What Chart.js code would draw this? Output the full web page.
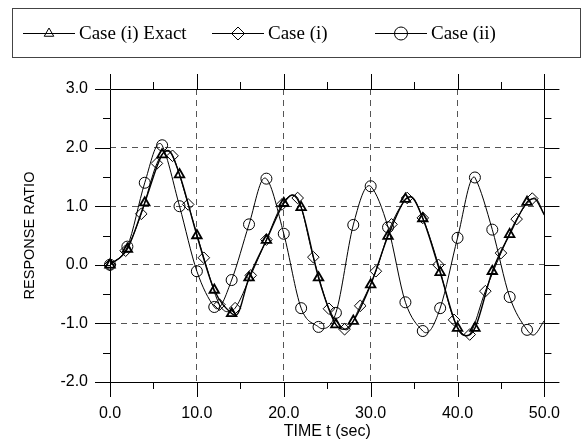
<!DOCTYPE html>
<html>
  <head>
    <meta charset="UTF-8" />
    <title>Response ratio vs time</title>
    <style>
      html, body { margin: 0; padding: 0; background: #fff; }
      canvas { display: block; }
    </style>
  </head>
  <body>
    <canvas id="myCanvas" width="582" height="444"></canvas>
    <script src="https://cdn.jsdelivr.net/npm/chart.js@4/dist/chart.umd.min.js"></script>
    <script>
      // Case (i) Exact - triangle markers, every 2 s
      const exactT = [0, 2, 4, 6, 8, 10, 12, 14, 16, 18, 20, 22, 24, 26, 28, 30, 32, 34, 36, 38, 40, 42, 44, 46, 48];
      const exactY = [0, 0.27, 1.06, 1.88, 1.54, 0.50, -0.43, -0.83, -0.22, 0.42, 1.05, 0.98, -0.22, -1.02, -0.96, -0.34, 0.49, 1.12, 0.79, -0.13, -1.08, -1.08, -0.11, 0.52, 1.07];
      // extra curve points between markers (peaks, troughs, end)
      const exactCurveT = [6.7, 14.5, 21.0, 27.0, 34.6, 41.0, 48.8, 50];
      const exactCurveY = [1.95, -0.86, 1.19, -1.10, 1.16, -1.21, 1.13, 0.85];

      // Case (i) - diamond markers, every 1.8 s
      const caseIT = [0, 1.8, 3.6, 5.4, 7.2, 9.0, 10.8, 12.6, 14.4, 16.2, 18.0, 19.8, 21.6, 23.4, 25.2, 27.0, 28.8, 30.6, 32.4, 34.2, 36.0, 37.8, 39.6, 41.4, 43.2, 45.0, 46.8, 48.6];
      const caseIY = [0, 0.24, 0.87, 1.73, 1.86, 1.03, 0.12, -0.68, -0.74, -0.18, 0.43, 1.03, 1.14, 0.13, -0.75, -1.10, -0.70, -0.11, 0.69, 1.14, 0.80, 0.00, -0.94, -1.19, -0.45, 0.20, 0.78, 1.13];
      const caseICurveT = [6.5, 13.5, 21.0, 27.2, 34.6, 41.1, 48.9, 50];
      const caseICurveY = [1.94, -0.80, 1.19, -1.11, 1.16, -1.21, 1.14, 0.85];

      // Case (ii) - circle markers, every 2 s
      const caseIIT = [0, 2, 4, 6, 8, 10, 12, 14, 16, 18, 20, 22, 24, 26, 28, 30, 32, 34, 36, 38, 40, 42, 44, 46, 48];
      const caseIIY = [0, 0.31, 1.40, 2.04, 1.00, -0.11, -0.72, -0.26, 0.69, 1.47, 0.53, -0.74, -1.06, -0.82, 0.68, 1.34, 0.64, -0.64, -1.13, -0.74, 0.46, 1.49, 0.60, -0.55, -1.11];
      const caseIICurveT = [5.7, 12.3, 17.8, 24.4, 29.8, 36.4, 41.9, 48.7, 50];
      const caseIICurveY = [2.07, -0.75, 1.48, -1.09, 1.35, -1.16, 1.50, -1.20, -0.95];

      const seriesNames = ["Case (i) Exact", "Case (i)", "Case (ii)"];

      const SANS = "'Liberation Sans', Arial, sans-serif";
      const SERIF = "'Liberation Serif', 'Times New Roman', serif";

      function pts(ts, ys) {
        return ts.map((t, i) => ({ x: t, y: ys[i] }));
      }
      function curve(ts, ys, ct, cy) {
        return pts(ts, ys).concat(pts(ct, cy)).sort((a, b) => a.x - b.x);
      }

      const styles = [
        { shape: "triangle", r: 5.5, w: 1.8, lineW: 1.4 },
        { shape: "rectRot", r: 5.8, w: 1, lineW: 1 },
        { shape: "circle", r: 5.5, w: 1, lineW: 1 }
      ];

      const lineData = [
        curve(exactT, exactY, exactCurveT, exactCurveY),
        curve(caseIT, caseIY, caseICurveT, caseICurveY),
        curve(caseIIT, caseIIY, caseIICurveT, caseIICurveY)
      ];
      const markerData = [pts(exactT, exactY), pts(caseIT, caseIY), pts(caseIIT, caseIIY)];

      const datasets = [];
      seriesNames.forEach((name, i) => {
        datasets.push({
          label: name,
          data: lineData[i],
          borderColor: "#000",
          borderWidth: styles[i].lineW,
          pointRadius: 0,
          cubicInterpolationMode: "monotone",
          fill: false
        });
        datasets.push({
          label: name + " markers",
          data: markerData[i],
          showLine: false,
          pointStyle: styles[i].shape,
          pointRadius: styles[i].r,
          pointBorderWidth: styles[i].w,
          pointBorderColor: "#000",
          pointBackgroundColor: "rgba(255,255,255,0)",
          clip: false
        });
      });

      function isMajorX(v) { return Math.abs(v % 10) < 1e-6; }
      function isMajorY(v) { return Math.abs(v - Math.round(v)) < 1e-6; }

      // legend box at the top, drawn by hand
      function drawMarker(ctx, shape, x, y, r) {
        ctx.beginPath();
        if (shape === "circle") {
          ctx.arc(x, y, r, 0, Math.PI * 2);
        } else if (shape === "rectRot") {
          ctx.moveTo(x, y - r); ctx.lineTo(x + r, y); ctx.lineTo(x, y + r); ctx.lineTo(x - r, y);
          ctx.closePath();
        } else {
          let a = 0;
          ctx.moveTo(x + Math.sin(a) * r, y - Math.cos(a) * r);
          a += (2 * Math.PI) / 3;
          ctx.lineTo(x + Math.sin(a) * r, y - Math.cos(a) * r);
          a += (2 * Math.PI) / 3;
          ctx.lineTo(x + Math.sin(a) * r, y - Math.cos(a) * r);
          ctx.closePath();
        }
        ctx.stroke();
      }

      const legendBox = {
        id: "legendBox",
        afterDraw(chart) {
          const ctx = chart.ctx;
          const starts = [23, 212, 375];
          const cy = 33;
          ctx.save();
          ctx.strokeStyle = "#444";
          ctx.lineWidth = 1;
          ctx.strokeRect(12.5, 8.5, 568, 49);
          ctx.font = "19px " + SERIF;
          ctx.textBaseline = "middle";
          ctx.fillStyle = "#000";
          seriesNames.forEach((name, i) => {
            const x0 = starts[i];
            ctx.strokeStyle = "#000";
            ctx.lineWidth = 1;
            ctx.beginPath();
            ctx.moveTo(x0, cy + 0.5);
            ctx.lineTo(x0 + 52, cy + 0.5);
            ctx.stroke();
            ctx.lineWidth = 1;
            drawMarker(ctx, styles[i].shape, x0 + 26, cy + 0.5, i === 0 ? 5.5 : 6.5);
            ctx.fillText(name, x0 + 56, cy + 1);
          });
          ctx.restore();
        }
      };

      // frame round the plot and outward tick marks on all four sides
      const frameTicks = {
        id: "frameTicks",
        afterDraw(chart) {
          const { ctx, chartArea: a } = chart;
          const sx = chart.scales.x, sy = chart.scales.y;
          ctx.save();
          ctx.strokeStyle = "#000";
          ctx.lineWidth = 1;
          ctx.beginPath();
          sx.ticks.forEach(t => {
            const px = Math.round(sx.getPixelForValue(t.value)) + 0.5;
            const len = isMajorX(t.value) ? 15 : 7;
            ctx.moveTo(px, a.bottom); ctx.lineTo(px, a.bottom + len);
            ctx.moveTo(px, a.top); ctx.lineTo(px, a.top - len);
          });
          sy.ticks.forEach(t => {
            const py = Math.round(sy.getPixelForValue(t.value)) + 0.5;
            const len = isMajorY(t.value) ? 15 : 7;
            ctx.moveTo(a.left, py); ctx.lineTo(a.left - len, py);
            ctx.moveTo(a.right, py); ctx.lineTo(a.right + len, py);
          });
          ctx.rect(Math.round(a.left) + 0.5, Math.round(a.top) + 0.5, Math.round(a.width), Math.round(a.height));
          ctx.stroke();
          ctx.restore();
        }
      };

      const ctx = document.getElementById("myCanvas").getContext("2d");
      const myChart = new Chart(ctx, {
        type: "line",
        data: { datasets: datasets },
        plugins: [frameTicks, legendBox],
        options: {
          responsive: false,
          animation: false,
          layout: { padding: { top: 89, right: 26, left: 0, bottom: 0 } },
          plugins: { legend: { display: false }, tooltip: { enabled: false } },
          scales: {
            x: {
              type: "linear",
              min: 0,
              max: 50,
              afterFit: s => { s.height = 62; },
              ticks: {
                stepSize: 5,
                autoSkip: false,
                maxRotation: 0,
                padding: 22,
                color: "#000",
                font: { family: SANS, size: 16 },
                callback: v => (isMajorX(v) ? v.toFixed(1) : "")
              },
              grid: {
                drawTicks: false,
                lineWidth: 1,
                color: c => (c.tick && isMajorX(c.tick.value) && c.tick.value > 0 && c.tick.value < 50 ? "#555" : "rgba(0,0,0,0)")
              },
              border: { display: false, dash: [6, 5] },
              title: {
                display: true,
                text: "TIME t (sec)",
                color: "#000",
                font: { family: SANS, size: 16 },
                padding: { top: 0, bottom: 3 }
              }
            },
            y: {
              min: -2,
              max: 3,
              afterFit: s => { s.width = 110; },
              ticks: {
                stepSize: 0.5,
                padding: 22,
                color: "#000",
                font: { family: SANS, size: 16 },
                callback: v => (isMajorY(v) ? v.toFixed(1) : "")
              },
              grid: {
                drawTicks: false,
                lineWidth: 1,
                color: c => (c.tick && isMajorY(c.tick.value) && c.tick.value > -2 && c.tick.value < 3 ? "#555" : "rgba(0,0,0,0)")
              },
              border: { display: false, dash: [6, 5] },
              title: {
                display: true,
                text: "RESPONSE RATIO",
                color: "#000",
                font: { family: SANS, size: 14.5 },
                padding: { top: 21, bottom: 0 }
              }
            }
          }
        }
      });
    </script>
  </body>
</html>
